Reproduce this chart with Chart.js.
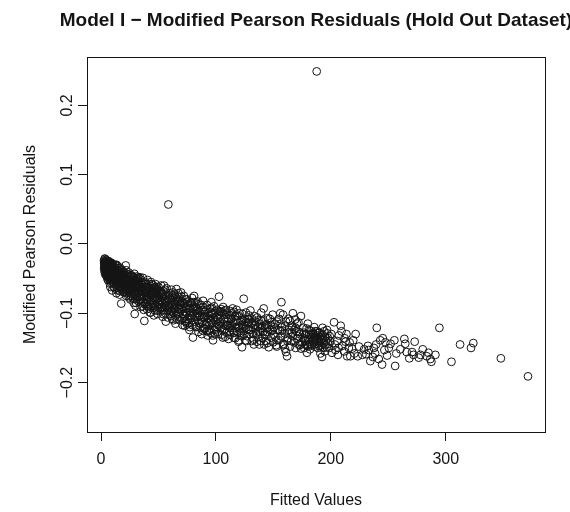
<!DOCTYPE html>
<html lang="en">
<head>
  <meta charset="UTF-8">
  <title>Model I - Modified Pearson Residuals</title>
  <script src="https://cdn.jsdelivr.net/npm/chart.js"></script>
  <style>
    body { margin: 0; background: #ffffff; }
    #residualChart { display: block; }
  </style>
</head>
<body>
  <canvas id="residualChart" width="570" height="512"></canvas>

  <script>
    const chartTitle = 'Model I \u2212 Modified Pearson Residuals (Hold Out Dataset)';
    const xTitle = 'Fitted Values';
    const yTitle = 'Modified Pearson Residuals';
    const xTicks = [0, 100, 200, 300];
    const yTicks = [-0.2, -0.1, 0.0, 0.1, 0.2];
    const yTickLabels = ['\u22120.2', '\u22120.1', '0.0', '0.1', '0.2'];

    // [fitted value, residual]
    const lowFitted = [
      [2.6,-0.024],[2.8,-0.028],[3.0,-0.031],[3.2,-0.022],[2.7,-0.035],[2.9,-0.026],[3.1,-0.040],[3.3,-0.021],[3.5,-0.030],[3.7,-0.044],
      [3.9,-0.025],[4.1,-0.033],[4.3,-0.038],[4.5,-0.023],[4.7,-0.046],[4.9,-0.029],[5.1,-0.036],[5.3,-0.041],[5.5,-0.024],[5.7,-0.032],
      [5.9,-0.048],[6.1,-0.027],[6.3,-0.037],[6.5,-0.043],[6.7,-0.030],[6.9,-0.025],[7.1,-0.050],[7.3,-0.034],[7.5,-0.039],[7.7,-0.028],
      [7.9,-0.045],[8.1,-0.062],[8.3,-0.031],[8.5,-0.036],[8.7,-0.052],[8.9,-0.027],[9.1,-0.041],[9.3,-0.047],[9.5,-0.033],[9.7,-0.067],
      [9.9,-0.038],[10.1,-0.029],[3.0,-0.034],[4.0,-0.028],[5.0,-0.044],[6.0,-0.034],[7.0,-0.041],[8.0,-0.047],[9.0,-0.035],[10.0,-0.055],
      [3.4,-0.038],[5.6,-0.050],[7.6,-0.057],[9.6,-0.031],
      [10.4,-0.032],[10.8,-0.045],[11.2,-0.038],[11.6,-0.053],[12.0,-0.030],[12.4,-0.041],[12.8,-0.060],[13.2,-0.035],[13.6,-0.048],[14.0,-0.043],
      [14.4,-0.032],[14.8,-0.056],[15.2,-0.039],[15.6,-0.064],[16.0,-0.046],[16.4,-0.034],[16.8,-0.051],[17.2,-0.042],[17.6,-0.086],[18.0,-0.037],
      [18.4,-0.058],[18.8,-0.047],[19.2,-0.069],[19.6,-0.040],[20.0,-0.054],[11.0,-0.062],[12.2,-0.050],[13.4,-0.071],[14.6,-0.038],[15.8,-0.052],
      [17.0,-0.060],[18.2,-0.044],[19.4,-0.063],[10.6,-0.036],[13.0,-0.054],[16.2,-0.073],[18.6,-0.050],[11.8,-0.043],[14.2,-0.066],[16.6,-0.057],
      [19.8,-0.046],[21.5,-0.031],
      [20.5,-0.044],[21.0,-0.062],[21.5,-0.052],[22.0,-0.038],[22.5,-0.071],[23.0,-0.048],[23.5,-0.058],[24.0,-0.041],[24.5,-0.066],[25.0,-0.053],
      [25.5,-0.080],[26.0,-0.045],[26.5,-0.061],[27.0,-0.072],[27.5,-0.050],[28.0,-0.057],[28.5,-0.085],[29.0,-0.043],[29.3,-0.101],[29.8,-0.064],
      [30.3,-0.052],[30.8,-0.076],[31.3,-0.047],[31.8,-0.069],[32.3,-0.058],[32.8,-0.083],[33.3,-0.050],[33.8,-0.062],[34.3,-0.074],[34.8,-0.055],
      [21.2,-0.057],[22.8,-0.064],[24.2,-0.077],[25.8,-0.059],[27.2,-0.046],[28.8,-0.068],[30.0,-0.089],[31.6,-0.060],[33.0,-0.070],[34.5,-0.091],
      [23.6,-0.052],[26.8,-0.055],[29.6,-0.073],[32.0,-0.049],[35.0,-0.066],[22.2,-0.050],[25.2,-0.070],[28.2,-0.062],[31.0,-0.054],[34.0,-0.080],
      [35.5,-0.058],[36.0,-0.077],[36.5,-0.049],[37.0,-0.066],[37.7,-0.111],[38.0,-0.087],[38.5,-0.055],[39.0,-0.071],[39.5,-0.062],[40.0,-0.094],
      [40.5,-0.052],[41.0,-0.080],[41.5,-0.068],[42.0,-0.058],[42.5,-0.099],[43.0,-0.074],[43.5,-0.055],[44.0,-0.085],[44.5,-0.064],[45.0,-0.077],
      [45.5,-0.060],[46.0,-0.103],[46.5,-0.070],[47.0,-0.088],[47.5,-0.058],[48.0,-0.081],[48.5,-0.067],[49.0,-0.096],[49.5,-0.074],[50.0,-0.062],
      [36.8,-0.083],[39.8,-0.076],[42.8,-0.066],[45.8,-0.092],[48.8,-0.072],[38.2,-0.069],[41.2,-0.090],[44.2,-0.071],[47.2,-0.065],[50.2,-0.086]
    ];

    const lowFittedCore = [
      [3.2,-0.027],[3.6,-0.035],[4.2,-0.042],[4.6,-0.031],[5.2,-0.027],[5.4,-0.038],[5.8,-0.030],[6.2,-0.045],[6.6,-0.036],[6.8,-0.028],
      [7.2,-0.033],[7.4,-0.046],[7.8,-0.037],[8.2,-0.041],[8.4,-0.029],[8.6,-0.049],[8.8,-0.035],[9.2,-0.031],[9.4,-0.044],[9.8,-0.042],
      [4.4,-0.035],[6.4,-0.040],[8.9,-0.056],[3.8,-0.030],[5.4,-0.046],[7.9,-0.032],[6.0,-0.052],[9.1,-0.051],[4.8,-0.040],[7.3,-0.027],
      [10.2,-0.040],[10.5,-0.049],[10.9,-0.035],[11.3,-0.044],[11.5,-0.057],[11.9,-0.037],[12.3,-0.046],[12.6,-0.034],[12.9,-0.051],[13.3,-0.041],
      [13.7,-0.058],[13.9,-0.037],[14.3,-0.049],[14.7,-0.044],[15.0,-0.061],[15.4,-0.035],[15.7,-0.047],[16.1,-0.055],[16.5,-0.040],[16.9,-0.063],
      [17.3,-0.049],[17.7,-0.038],[18.1,-0.053],[18.5,-0.066],[18.9,-0.042],[19.3,-0.056],[19.7,-0.051],[12.0,-0.064],[14.0,-0.053],[16.0,-0.068],
      [18.0,-0.061],[19.9,-0.070],[13.5,-0.030],[17.5,-0.045],[11.0,-0.052],
      [20.3,-0.050],[20.8,-0.068],[21.3,-0.045],[21.8,-0.060],[22.3,-0.055],[22.7,-0.043],[23.2,-0.067],[23.8,-0.061],[24.3,-0.048],[24.8,-0.058],
      [25.3,-0.064],[25.7,-0.047],[26.2,-0.075],[26.7,-0.052],[27.3,-0.064],[27.8,-0.055],[28.3,-0.070],[28.7,-0.048],[29.2,-0.061],[29.7,-0.080],
      [30.2,-0.057],[30.6,-0.068],[31.1,-0.050],[31.5,-0.079],[32.1,-0.064],[32.5,-0.053],[33.1,-0.076],[33.6,-0.058],[34.1,-0.067],[34.6,-0.084],
      [20.6,-0.058],[22.0,-0.075],[23.4,-0.044],[25.0,-0.068],[26.4,-0.057],[27.9,-0.079],[29.4,-0.052],[30.9,-0.062],[32.4,-0.071],[33.9,-0.048],
      [21.7,-0.066],[24.6,-0.073],[27.6,-0.060],[30.5,-0.085],[33.4,-0.063],
      [35.2,-0.072],[35.8,-0.062],[36.3,-0.090],[36.9,-0.056],[37.4,-0.075],[38.3,-0.063],[38.8,-0.080],[39.3,-0.058],[39.7,-0.087],[40.3,-0.069],
      [40.8,-0.062],[41.3,-0.075],[41.8,-0.093],[42.3,-0.064],[42.9,-0.082],[43.3,-0.070],[43.8,-0.091],[44.3,-0.058],[44.8,-0.073],[45.3,-0.086],
      [45.7,-0.067],[46.3,-0.078],[46.8,-0.096],[47.3,-0.073],[47.8,-0.062],[48.3,-0.090],[48.7,-0.078],[49.3,-0.065],[49.8,-0.083],[37.2,-0.095],
      [40.2,-0.081],[43.2,-0.099],[46.2,-0.063],[49.2,-0.101],[36.2,-0.068],[39.2,-0.066],[42.2,-0.087],[45.2,-0.069],[48.2,-0.070],[50.0,-0.092]
    ];

    const midFitted = [
      [50.8,-0.070],[51.5,-0.093],[52.2,-0.060],[52.9,-0.082],[53.6,-0.105],[54.3,-0.068],[55.0,-0.088],[55.7,-0.075],[56.4,-0.112],[57.1,-0.064],
      [57.8,-0.096],[58.5,-0.080],[59.2,-0.071],[59.9,-0.101],[60.6,-0.086],[61.3,-0.066],[62.0,-0.108],[62.7,-0.078],[63.4,-0.092],[64.1,-0.072],
      [64.8,-0.115],[65.6,-0.065],[66.2,-0.084],[66.9,-0.098],[67.6,-0.076],[68.3,-0.110],[69.0,-0.088],[69.7,-0.070],[53.0,-0.076],[56.0,-0.100],
      [59.5,-0.090],[62.5,-0.070],[65.0,-0.103],[68.0,-0.094],[54.8,-0.060],[61.0,-0.097],[67.0,-0.082],
      [70.5,-0.083],[71.3,-0.101],[72.1,-0.075],[72.9,-0.118],[73.7,-0.090],[74.5,-0.080],[75.3,-0.108],[76.1,-0.095],[76.9,-0.124],[77.7,-0.085],
      [78.5,-0.100],[79.3,-0.078],[80.0,-0.135],[81.0,-0.075],[81.6,-0.112],[82.4,-0.091],[83.2,-0.104],[84.0,-0.083],[84.8,-0.127],[85.6,-0.097],
      [86.4,-0.115],[87.2,-0.088],[88.0,-0.106],[88.8,-0.082],[89.6,-0.122],[71.8,-0.093],[74.0,-0.113],[77.2,-0.102],[79.8,-0.092],[83.0,-0.119],
      [86.0,-0.104],[88.5,-0.095],[73.0,-0.086],[82.0,-0.084],[87.6,-0.130],
      [90.4,-0.098],[91.3,-0.117],[92.2,-0.088],[93.1,-0.108],[94.0,-0.126],[94.9,-0.093],[95.8,-0.112],[96.7,-0.101],[97.5,-0.139],[98.4,-0.090],
      [99.3,-0.120],[100.2,-0.105],[101.1,-0.095],[102.0,-0.130],[102.7,-0.076],[103.6,-0.113],[104.5,-0.098],[105.4,-0.124],[106.3,-0.091],[107.2,-0.109],
      [108.1,-0.134],[109.0,-0.102],[109.9,-0.117],[92.8,-0.132],[96.0,-0.084],[99.8,-0.110],[104.0,-0.121],[107.8,-0.096],[101.5,-0.116],[94.5,-0.104],
      [110.8,-0.108],[111.8,-0.126],[112.8,-0.097],[113.8,-0.116],[114.6,-0.093],[115.6,-0.135],[116.6,-0.104],[117.6,-0.121],[118.6,-0.112],[119.6,-0.141],
      [120.6,-0.100],[121.6,-0.128],[122.7,-0.149],[123.4,-0.110],[124.2,-0.079],[125.0,-0.118],[126.0,-0.099],[127.0,-0.133],[128.0,-0.108],[129.0,-0.124],
      [130.0,-0.096],[112.0,-0.118],[116.0,-0.128],[120.0,-0.119],[125.6,-0.139],[128.6,-0.114],[118.0,-0.095],
      [131.0,-0.115],[132.2,-0.130],[133.4,-0.104],[134.6,-0.122],[135.8,-0.141],[137.0,-0.110],[138.2,-0.127],[139.4,-0.099],[140.6,-0.136],[141.6,-0.093],
      [142.8,-0.118],[144.0,-0.131],[145.2,-0.107],[146.0,-0.149],[147.2,-0.124],[148.4,-0.113],[149.4,-0.102],[133.0,-0.145],[136.5,-0.119],[143.5,-0.140],
      [139.0,-0.122],
      [150.6,-0.120],[151.8,-0.134],[153.0,-0.112],[154.6,-0.139],[155.8,-0.125],[157.0,-0.084],[158.4,-0.102],[159.0,-0.144],[160.2,-0.118],[161.0,-0.156],
      [161.9,-0.162],[163.2,-0.128],[164.4,-0.111],[165.6,-0.140],[167.0,-0.100],[168.2,-0.124],[169.4,-0.150],[170.6,-0.115],[171.8,-0.133],[173.0,-0.146],
      [174.0,-0.104],[152.5,-0.146],[156.5,-0.115],[162.5,-0.136],[166.5,-0.120],[172.4,-0.127],
      [175.5,-0.135],[176.5,-0.128],[177.5,-0.145],[178.3,-0.138],[179.2,-0.157],[180.0,-0.115],[181.0,-0.131],[182.0,-0.144],[183.0,-0.126],[184.0,-0.140],
      [185.0,-0.130],[186.0,-0.148],[187.0,-0.134],[188.0,-0.137],[189.0,-0.128],[190.0,-0.143],[190.9,-0.158],[191.5,-0.132],[192.3,-0.163],[193.2,-0.139],
      [194.2,-0.126],[195.2,-0.146],[196.7,-0.124],[197.5,-0.136],[198.5,-0.150],[199.6,-0.141],[178.8,-0.122],[181.8,-0.152],[185.5,-0.120],[188.6,-0.150],
      [192.8,-0.121],[183.6,-0.135],[186.6,-0.141],[190.4,-0.135],[194.8,-0.155],[176.8,-0.150]
    ];

    const midFittedCore = [
      [50.5,-0.077],[51.0,-0.088],[51.8,-0.068],[52.5,-0.097],[53.3,-0.085],[53.9,-0.072],[54.6,-0.095],[55.3,-0.080],[55.9,-0.066],[56.7,-0.090],
      [57.4,-0.083],[58.0,-0.106],[58.8,-0.074],[59.4,-0.095],[60.2,-0.078],[60.9,-0.104],[61.6,-0.088],[62.3,-0.074],[63.0,-0.099],[63.7,-0.084],
      [64.4,-0.094],[65.2,-0.077],[65.9,-0.108],[66.6,-0.090],[67.3,-0.071],[67.9,-0.101],[68.6,-0.082],[69.3,-0.096],[70.0,-0.076],[51.2,-0.081],
      [54.0,-0.101],[57.0,-0.077],[60.0,-0.092],[63.0,-0.110],[66.0,-0.080],[69.0,-0.105],[52.0,-0.073],[55.5,-0.092],[58.2,-0.088],[61.5,-0.081],
      [64.5,-0.087],[67.5,-0.094],[53.0,-0.091],[62.0,-0.090],[68.8,-0.088],
      [70.2,-0.094],[70.9,-0.108],[71.6,-0.086],[72.4,-0.097],[73.2,-0.111],[73.9,-0.080],[74.7,-0.100],[75.5,-0.088],[76.3,-0.114],[77.0,-0.093],
      [77.8,-0.107],[78.6,-0.085],[79.4,-0.117],[80.2,-0.099],[81.0,-0.090],[81.8,-0.105],[82.6,-0.120],[83.4,-0.093],[84.2,-0.110],[85.0,-0.087],
      [85.8,-0.103],[86.6,-0.121],[87.4,-0.096],[88.2,-0.113],[89.0,-0.091],[89.8,-0.106],[71.0,-0.117],[74.2,-0.093],[77.4,-0.120],[80.6,-0.084],
      [83.8,-0.100],[87.0,-0.109],[72.6,-0.104],[76.0,-0.083],[79.0,-0.104],[82.2,-0.097],[85.4,-0.114],[88.6,-0.125],[75.0,-0.116],[84.5,-0.095],
      [90.2,-0.106],[90.9,-0.122],[91.7,-0.095],[92.5,-0.113],[93.4,-0.100],[94.2,-0.117],[95.1,-0.128],[95.9,-0.098],[96.8,-0.115],[97.7,-0.106],
      [98.6,-0.124],[99.5,-0.097],[100.4,-0.113],[101.3,-0.127],[102.2,-0.102],[103.1,-0.118],[104.0,-0.108],[104.9,-0.131],[105.8,-0.099],[106.7,-0.116],
      [107.6,-0.123],[108.5,-0.106],[109.4,-0.128],[110.0,-0.112],[91.0,-0.104],[93.8,-0.124],[96.4,-0.092],[99.0,-0.130],[101.8,-0.108],[104.6,-0.094],
      [107.0,-0.102],[109.0,-0.095],[92.0,-0.126],[95.4,-0.109],[98.0,-0.100],[100.8,-0.120],[103.4,-0.097],[106.0,-0.135],[108.8,-0.118],[97.2,-0.132],
      [110.5,-0.117],[111.4,-0.102],[112.3,-0.131],[113.2,-0.108],[114.1,-0.124],[115.0,-0.113],[115.9,-0.098],[116.8,-0.136],[117.7,-0.110],[118.6,-0.127],
      [119.5,-0.104],[120.4,-0.121],[121.3,-0.112],[122.2,-0.133],[123.1,-0.101],[124.0,-0.126],[124.9,-0.108],[125.8,-0.121],[126.7,-0.140],[127.6,-0.114],
      [128.5,-0.103],[129.4,-0.130],[111.0,-0.137],[114.0,-0.100],[117.0,-0.116],[120.0,-0.139],[123.0,-0.117],[126.0,-0.113],[129.0,-0.109],[112.6,-0.121],
      [115.6,-0.128],[118.4,-0.104],[121.0,-0.125],[124.6,-0.131],[127.4,-0.123],
      [130.4,-0.124],[131.5,-0.108],[132.6,-0.138],[133.7,-0.117],[134.8,-0.129],[135.9,-0.106],[137.0,-0.134],[138.1,-0.115],[139.2,-0.140],[140.3,-0.121],
      [141.4,-0.110],[142.5,-0.131],[143.6,-0.116],[144.7,-0.143],[145.8,-0.120],[146.9,-0.108],[148.0,-0.135],[149.1,-0.125],[131.2,-0.140],[134.0,-0.112],
      [136.8,-0.126],[139.6,-0.111],[142.0,-0.145],[145.0,-0.127],[147.8,-0.117],[149.8,-0.142],[132.0,-0.121],[137.8,-0.145],[141.0,-0.127],[144.2,-0.122],
      [150.3,-0.131],[151.4,-0.115],[152.6,-0.139],[153.8,-0.124],[155.0,-0.108],[156.2,-0.133],[157.4,-0.120],[158.6,-0.146],[159.8,-0.129],[161.0,-0.112],
      [162.2,-0.140],[163.4,-0.124],[164.6,-0.148],[165.8,-0.118],[167.0,-0.133],[168.2,-0.142],[169.4,-0.121],[170.6,-0.137],[171.8,-0.113],[173.0,-0.130],
      [174.2,-0.151],[153.0,-0.148],[156.0,-0.100],[160.0,-0.151],[163.0,-0.108],[166.0,-0.128],[169.0,-0.109],[172.0,-0.145],[158.0,-0.125],[170.0,-0.126],
      [175.2,-0.142],[176.2,-0.121],[177.2,-0.137],[178.2,-0.130],[179.0,-0.146],[180.2,-0.139],[181.2,-0.124],[182.4,-0.137],[183.4,-0.146],[184.4,-0.129],
      [185.4,-0.138],[186.4,-0.126],[187.4,-0.144],[188.4,-0.132],[189.4,-0.140],[190.2,-0.128],[191.2,-0.146],[192.0,-0.137],[193.0,-0.131],[194.0,-0.143],
      [195.0,-0.134],[196.0,-0.140],[197.0,-0.129],[198.0,-0.144],[199.0,-0.133],[180.6,-0.148],[183.0,-0.131],[185.8,-0.145],[188.2,-0.126],[191.0,-0.139],
      [193.6,-0.150],[196.4,-0.149],[178.0,-0.140],[186.0,-0.134],[189.8,-0.147]
    ];

    const highFitted = [
      [201.0,-0.157],[202.8,-0.113],[204.0,-0.153],[207.0,-0.132],[208.6,-0.118],[210.0,-0.147],[212.8,-0.141],[213.6,-0.130],[214.2,-0.162],[215.7,-0.150],
      [217.0,-0.162],[218.5,-0.151],[221.6,-0.130],[223.4,-0.162],[205.5,-0.140],[211.5,-0.155],[219.5,-0.139],[200.5,-0.130],[206.2,-0.160],[209.3,-0.126],
      [203.5,-0.145],[206.8,-0.150],[212.0,-0.136],[216.4,-0.142],[220.5,-0.158],[224.5,-0.148],[227.5,-0.160],[229.0,-0.152],
      [230.7,-0.159],[232.3,-0.147],[233.0,-0.153],[234.4,-0.169],[236.5,-0.163],[239.4,-0.145],[240.0,-0.121],[241.7,-0.166],[243.0,-0.139],[244.6,-0.174],
      [245.2,-0.136],[246.6,-0.153],[249.0,-0.161],[255.3,-0.139],[256.0,-0.176],[257.0,-0.158],[264.0,-0.137],[264.8,-0.144],[268.3,-0.165],[270.7,-0.156],
      [273.0,-0.141],[276.5,-0.164],[280.0,-0.152],[286.6,-0.166],[287.5,-0.170],[291.0,-0.160],[294.5,-0.121],[305.0,-0.170],[312.5,-0.145],[322.0,-0.150],
      [324.0,-0.143],[348.0,-0.165],[371.6,-0.191],
      [237.5,-0.150],[238.5,-0.158],[247.5,-0.142],[250.5,-0.150],[252.0,-0.144],[260.5,-0.152],[266.0,-0.156],[272.0,-0.160],[278.0,-0.160],[283.5,-0.162],
      [285.0,-0.157]
    ];

    const outliers = [[58.6, 0.057], [187.7, 0.249]];

    const allPoints = lowFitted.concat(lowFittedCore, midFitted, midFittedCore, highFitted, outliers)
      .map(p => ({ x: p[0], y: p[1] }));

    const fontFamily = '"Liberation Sans", Arial, Helvetica, sans-serif';
    const ink = '#141414';

    // R-style box, title, axis titles and rotated y labels
    const rFrame = {
      id: 'rFrame',
      afterDraw(chart) {
        const { ctx, chartArea: a, scales } = chart;
        ctx.save();
        ctx.strokeStyle = ink;
        ctx.lineWidth = 1;
        ctx.strokeRect(a.left + 0.5, a.top + 0.5, a.right - a.left, a.bottom - a.top);

        ctx.fillStyle = ink;
        ctx.textAlign = 'center';
        ctx.textBaseline = 'alphabetic';
        ctx.font = 'bold 19px ' + fontFamily;
        ctx.fillText(chartTitle, (a.left + a.right) / 2, 26);

        ctx.font = '16px ' + fontFamily;
        ctx.fillText(xTitle, (a.left + a.right) / 2, 505);

        yTicks.forEach((v, i) => {
          ctx.save();
          ctx.translate(71.5, scales.y.getPixelForValue(v));
          ctx.rotate(-Math.PI / 2);
          ctx.fillText(yTickLabels[i], 0, 0);
          ctx.restore();
        });

        ctx.save();
        ctx.translate(35, (a.top + a.bottom) / 2);
        ctx.rotate(-Math.PI / 2);
        ctx.fillText(yTitle, 0, 0);
        ctx.restore();
        ctx.restore();
      }
    };

    new Chart(document.getElementById('residualChart'), {
      type: 'scatter',
      data: {
        datasets: [{
          data: allPoints,
          pointStyle: 'circle',
          pointRadius: 3.9,
          pointBorderWidth: 1,
          borderColor: ink,
          backgroundColor: 'rgba(0,0,0,0)'
        }]
      },
      options: {
        responsive: false,
        animation: false,
        devicePixelRatio: 1,
        events: [],
        layout: { padding: { top: 57, right: 25, left: 0, bottom: 0 } },
        plugins: {
          legend: { display: false },
          tooltip: { enabled: false },
          title: { display: false }
        },
        scales: {
          x: {
            type: 'linear',
            min: -12.2,
            max: 386.4,
            afterBuildTicks: axis => { axis.ticks = xTicks.map(v => ({ value: v })); },
            afterFit: axis => { axis.height = 80; },
            border: { display: false },
            grid: { drawOnChartArea: false, drawTicks: true, tickLength: 9, color: ink, tickColor: ink },
            ticks: { color: ink, padding: 9, maxRotation: 0, font: { family: fontFamily, size: 16 } }
          },
          y: {
            type: 'linear',
            min: -0.2713,
            max: 0.2698,
            afterBuildTicks: axis => { axis.ticks = yTicks.map(v => ({ value: v })); },
            afterFit: axis => { axis.width = 87; },
            border: { display: false },
            grid: { drawOnChartArea: false, drawTicks: true, tickLength: 9, color: ink, tickColor: ink },
            ticks: { display: false }
          }
        }
      },
      plugins: [rFrame]
    });
  </script>
</body>
</html>
